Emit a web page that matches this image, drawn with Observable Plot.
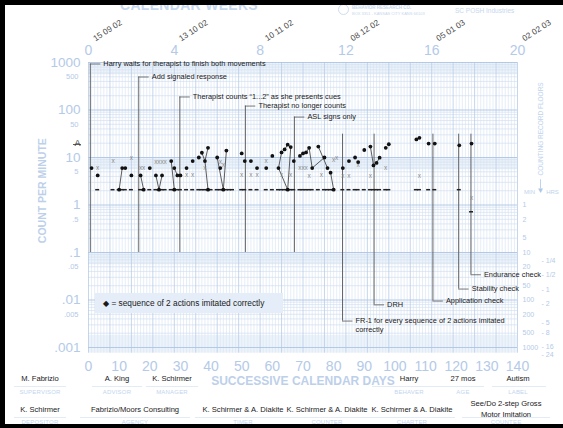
<!DOCTYPE html>
<html><head><meta charset="utf-8">
<script src="https://cdn.jsdelivr.net/npm/d3@7"></script>
<script src="https://cdn.jsdelivr.net/npm/@observablehq/plot@0.6"></script>
<style>
body{margin:0;background:#fff;}
#wrap{position:relative;width:563px;height:428px;overflow:hidden;font-family:"Liberation Sans",Arial,sans-serif;background:#fff;}
#wrap svg{position:absolute;left:0;top:0;overflow:visible;}
.bar{position:absolute;background:#000;z-index:5;}
.abs{position:absolute;white-space:nowrap;}
.f{position:absolute;transform:translateX(-50%);text-align:center;white-space:nowrap;line-height:1;}
.v{font-size:7.6px;color:#1a1a1a;}
.l{font-size:6px;color:#c3d5ee;letter-spacing:.2px;}
.u{position:absolute;height:0;border-top:1px solid #e2ebf6;}
</style></head><body><div id="wrap"></div>
<script>
// ---------- data ----------
const weekTicks = [0, 4, 8, 12, 16, 20];
const weekDates = ["15 09 02", "13 10 02", "10 11 02", "08 12 02", "05 01 03", "02 02 03"];
const dayTicks = [0,10,20,30,40,50,60,70,80,90,100,110,120,130,140];
const majorY = [1000, 100, 10, 1, 0.1, 0.01, 0.001];
const majorYLabels = ["1000", "100", "10", "1", ".1", ".01", ".001"];
const minorY = [500, 50, 5, 0.5, 0.05, 0.005];
const minorYLabels = ["500", "50", "5", ".5", ".05", ".005"];
const floorMinutes = [1, 2, 5, 10, 20, 50, 100, 200, 500, 1000];
const floorHours = [0.25, 0.5, 1, 2, 5, 8, 16, 24];
const floorHourLabels = ["1/4", "1/2", "1", "2", "5", "8", "16", "24"];

// correct (dots): day, count per minute
const dotDays   = [1,3,10,11,12,14, 17,18,20,22,23,24,27,28,28,29, 30,32,34,36,37,38,39,39, 42,43,44,45, 50,51,53,55,58,60, 62,63,64,65,65,66,67, 69,70,71,72,73,75,77,78,79,80, 83,85,87,88,90,92,93,94,95, 97,98, 107,108, 111,113, 121, 125];
const dotValues = [6,4.2,2.1,6,6,4.2, 4.2,2.1,6,4.2,2.1,4.2,8.4,6,2.1,4.2, 4.2,6,8.4,10,12.6,8.4,16,2.1, 10,6,2.1,14, 12.2,8.4,8.4,6,6,10.8, 6,12.8,14.8,18.6,2.1,16.6,8.4, 10.8,12.2,12.8,16,6,17,10,6,4.8,2.1, 6,8.4,10,8,14.4,17,6.8,7.7,9.9, 16,19, 24,26, 19.6,19.6, 18, 19.6];
// connected runs of dots
const lineRuns = [
  [[10,2.1],[11,6]],
  [[17,4.2],[18,2.1]],
  [[22,4.2],[23,2.1],[24,4.2]],
  [[27,8.4],[28,2.1]],
  [[28,6],[29,4.2]],
  [[37,12.6],[38,8.4],[39,16]],
  [[38,8.4],[39,2.1]],
  [[42,10],[44,2.1],[45,14]],
  [[62,6],[63,12.8],[64,14.8],[65,18.6],[66,16.6]],
  [[62,6],[65,2.1],[66,16.6]],
  [[69,10.8],[70,12.2],[71,12.8],[72,16],[73,6]],
  [[75,17],[78,6]],
  [[73,6],[77,10]],
  [[79,4.8],[80,2.1]],
  [[92,17],[93,6.8],[94,7.7],[95,9.9]]
];
// incorrect (x marks)
const errDays   = [3,8,14,17,18,22,23,24,25,32,34,38,43,44,50,53,55,58,63,66,69,70,71,72,76,80,81,83,85,88,92,97,108,125];
const errValues = [6,8.4,10,6,6,8,8,8,8,4.2,4.2,6,8,7,4.4,4.4,4.4,8.4,4.4,4.4,6,6,6,4.1,4.4,9,10,4.1,4.1,7,4.1,6.1,4.1,1.38];
// record floors (dashes)
const floorDays   = [3,8,10,11,12,14,17,18,20,22,23,24,25,27,28,29,30,32,34,36,37,38,39,40,42,43,44,45,46,47,50,51,53,55,58,60,62,63,64,65,66,67,69,70,71,72,73,75,77,78,79,80,83,85,87,88,90,92,93,94,95,97,98,107,108,111,113,121,125];
const floorValues = floorDays.map(d => d === 125 ? 0.72 : 2.1);

// phase changes
const phaseDays = [0.6, 16.4, 29.8, 51.2, 67.2, 82.9, 93.2, 112.4, 120.8, 124.8];
const phaseLabels = [
  "Harry waits for therapist to finish both movements",
  "Add signaled response",
  "Therapist counts \u201c1...2\u201d as she presents cues",
  "Therapist no longer counts",
  "ASL signs only",
  "FR-1 for every sequence of 2 actions imitated\ncorrectly",
  "DRH",
  "Application check",
  "Stability check",
  "Endurance check"
];
const phaseLabelLevel = [930, 495, 188, 121, 71, 0.0036, 0.0079, 0.0095, 0.017, 0.034];
const phaseLineTop    = [930, 495, 188, 121, 71, 31, 31, 31, 31, 31];
const phaseLineBottom = [0.1, 0.1, 0.1, 0.1, 0.1, 0.0036, 0.0079, 0.0095, 0.017, 0.034];

const footerRow1 = ["M. Fabrizio", "A. King", "K. Schirmer", "Harry", "27 mos", "Autism"];
const footerRow1Labels = ["SUPERVISOR", "ADVISOR", "MANAGER", "BEHAVER", "AGE", "LABEL"];
const footerRow2 = ["K. Schirmer", "Fabrizio/Moors Consulting", "K. Schirmer & A. Diakite", "K. Schirmer & A. Diakite", "K. Schirmer & A. Diakite", "See/Do 2-step Gross\nMotor Imitation"];
const footerRow2Labels = ["DEPOSITOR", "AGENCY", "TIMER", "COUNTER", "CHARTER", "COUNTEE"];

// ---------- build tables ----------
const dots = dotDays.map((d, i) => ({day: d, value: dotValues[i]}));
const errs = errDays.map((d, i) => ({day: d, value: errValues[i]}));
const floors = floorDays.map((d, i) => ({day: d, value: floorValues[i]}));
const links = lineRuns.flatMap((run, g) => run.map(([day, value]) => ({day, value, g})));
const phases = phaseDays.map((d, i) => ({day: d, label: phaseLabels[i], level: phaseLabelLevel[i], top: phaseLineTop[i], bottom: phaseLineBottom[i]}));
const weeks = weekTicks.map((w, i) => ({day: w * 7, week: String(w), date: weekDates[i]}));

const gridY = [];
for (let k = -3; k <= 2; k++) for (let m = 1; m <= 9; m++) gridY.push(+(m * Math.pow(10, k)).toPrecision(3));
gridY.push(1000);
const decades = [1000, 100, 10, 1, 0.1, 0.01, 0.001];
const allDays = d3.range(0, 141);
const bands = [1000, 10, 0.1];

const light = "#b4cae8";
const W = 563, H = 428;

const chart = Plot.plot({
  width: W, height: H,
  marginLeft: 88, marginRight: 46, marginTop: 62, marginBottom: 81,
  x: {domain: [0, 140], axis: null},
  y: {type: "log", domain: [0.001, 1000], axis: null},
  style: {fontFamily: "'Liberation Sans', Arial, sans-serif", background: "transparent", overflow: "visible"},
  marks: [
    Plot.rect(bands, {x1: 0, x2: 140, y1: d => d * 0.55, y2: d => d, fill: "#edf3fa"}),
    Plot.rect([0], {x1: 0, x2: 140, y1: 0.00076, y2: 0.0018, fill: "#edf3fa"}),
    Plot.ruleX(allDays.filter(d => d % 7 !== 0), {x: d => d, y1: 0.00076, y2: 1000, stroke: "#dae6f4", strokeWidth: 0.7}),
    Plot.ruleY(gridY.filter(v => !decades.includes(v)), {y: d => d, x1: 0, x2: 140, stroke: "#d2e0f1", strokeWidth: 0.7}),
    Plot.ruleX(allDays.filter(d => d % 7 === 0), {x: d => d, y1: 0.00076, y2: 1000, stroke: "#b7cce7", strokeWidth: 0.8}),
    Plot.ruleY(decades, {y: d => d, x1: 0, x2: 140, stroke: "#adc4e3", strokeWidth: 0.9}),
    // axis labels
    Plot.text(majorY, {x: 0, y: d => d, text: (d, i) => majorYLabels[i], dx: -8, textAnchor: "end", fontSize: 13.5, fill: light}),
    Plot.text(minorY, {x: 0, y: d => d, text: (d, i) => minorYLabels[i], dx: -10, textAnchor: "end", fontSize: 7.5, fill: light}),
    Plot.text(dayTicks, {x: d => d, y: 0.001, dy: 19, text: d => String(d), fontSize: 14, fill: light}),
    Plot.text(["SUCCESSIVE CALENDAR DAYS"], {x: 70, y: 0.001, dy: 34, text: d => d, fontSize: 12, fontWeight: "bold", fill: "#bdd0ea"}),
    Plot.text(["COUNT PER MINUTE"], {x: 0, y: 2, dx: -46, rotate: -90, text: d => d, fontSize: 10.5, fontWeight: "bold", fill: "#bdd0ea"}),
    Plot.text(weeks, {x: "day", y: 1000, dy: -12, text: "week", fontSize: 14, fill: light}),
    Plot.text(weeks, {x: "day", y: 1000, dx: 19, dy: -32, rotate: -33, text: "date", fontSize: 8.3, fill: "#4a4a4a"}),
    // right side record floors
    Plot.text(floorMinutes, {x: 140, y: d => 1 / d, dx: 5, textAnchor: "start", text: d => String(d), fontSize: 7, fill: light}),
    Plot.text(floorHours, {x: 140, y: d => 1 / (d * 60), dx: 24, textAnchor: "start", text: (d, i) => "- " + floorHourLabels[i], fontSize: 7, fill: light}),
    Plot.text(["COUNTING RECORD FLOORS"], {x: 140, y: 40, dx: 23, rotate: -90, text: d => d, fontSize: 6.5, fill: "#c0d3ec"}),
    Plot.ruleX([140], {x: d => d, y1: 3.4, y2: 2.2, dx: 23, stroke: "#c0d3ec"}),
    Plot.text(["\u25BC"], {x: 140, y: 2, dx: 23, text: d => d, fontSize: 8, fill: "#aec6e6"}),
    Plot.text(["MIN"], {x: 140, y: 1.85, dx: 12, text: d => d, fontSize: 6, fill: "#c0d3ec"}),
    Plot.text(["HRS"], {x: 140, y: 1.85, dx: 35, text: d => d, fontSize: 6, fill: "#c0d3ec"}),
    // small A marker
    Plot.text(["A"], {x: 0, y: 10, dx: -11, dy: -14, text: d => d, fontSize: 9, fill: "#333"}),
    Plot.ruleY([10], {y: d => d, x1: -4.9, x2: -2.3, dy: -13, stroke: "#333", strokeWidth: 0.8}),
    // phase change lines
    Plot.ruleX(phases, {x: "day", y1: "top", y2: "bottom", stroke: "#555", strokeWidth: 0.9}),
    Plot.ruleY(phases, {y: "level", x1: "day", x2: d => d.day + 3.4, stroke: "#555", strokeWidth: 0.8}),
    Plot.text(phases, {x: "day", y: "level", text: "label", dx: 13, dy: -4, textAnchor: "start", lineAnchor: "top", lineHeight: 1.2, fontSize: 7.4, fill: "#1a1a1a"}),
    // data
    Plot.ruleY(floors, {y: "value", x1: d => d.day - 0.65, x2: d => d.day + 0.65, stroke: "#222", strokeWidth: 1.5}),
    Plot.line(links, {x: "day", y: "value", z: "g", stroke: "#333", strokeWidth: 0.8}),
    Plot.text(errs, {x: "day", y: "value", text: d => "x", fontSize: 6.5, fill: "#8a8a8a"}),
    Plot.dot(dots, {x: "day", y: "value", r: 1.9, fill: "#111", stroke: "none"})
  ]
});

const wrap = document.getElementById("wrap");
wrap.appendChild(chart);

function add(html) { wrap.insertAdjacentHTML("beforeend", html); }
// header decorations
add('<div class="abs" style="left:120px;top:-3px;font-size:14px;font-weight:bold;color:#c6d7ee;letter-spacing:.3px">CALENDAR WEEKS</div>');
add('<div class="abs" style="left:338px;top:4px;width:9px;height:9px;border:1px solid #d0ddef;border-radius:50%"></div>');
add('<div class="abs" style="left:352px;top:5px;font-size:4.5px;color:#c6d7ee;font-weight:bold">BEHAVIOR RESEARCH CO.</div>');
add('<div class="abs" style="left:352px;top:11px;font-size:4px;color:#c6d7ee">BOX 3351 - KANSAS CITY KANS 66103</div>');
add('<div class="abs" style="left:455px;top:7px;font-size:6.5px;color:#c6d7ee">SC POSH Industries</div>');
// legend box
add('<div class="abs" style="left:95px;top:293px;width:188px;height:20px;background:#e4edf8"></div>');
add('<div class="abs" style="left:103px;top:298px;font-size:8.3px;color:#1a1a1a;line-height:10px"><span style="font-family:DejaVu Sans;font-size:8px">\u25C6</span> = sequence of 2 actions imitated correctly</div>');
// footer
const f1x = [40, 117, 172, 409, 463, 518];
const f2x = [40, 135, 243, 327, 412, 506];
const u1 = [[14,66],[92,142],[146,198],[372,446],[444,484],[492,546]];
const u2 = [[14,66],[80,190],[195,290],[290,372],[372,455],[462,550]];
footerRow1.forEach((t, i) => {
  add(`<div class="f v" style="left:${f1x[i]}px;top:375px">${t}</div>`);
  add(`<div class="f l" style="left:${f1x[i]}px;top:389px">${footerRow1Labels[i]}</div>`);
  add(`<div class="u" style="left:${u1[i][0]}px;width:${u1[i][1]-u1[i][0]}px;top:386px"></div>`);
});
footerRow2.forEach((t, i) => {
  const two = t.includes("\n");
  add(`<div class="f v" style="left:${f2x[i]}px;top:${two ? 398 : 404}px;line-height:11px">${t.replace("\n", "<br>")}</div>`);
  add(`<div class="f l" style="left:${f2x[i]}px;top:419px">${footerRow2Labels[i]}</div>`);
  add(`<div class="u" style="left:${u2[i][0]}px;width:${u2[i][1]-u2[i][0]}px;top:417px"></div>`);
});
// black frame
add('<div class="bar" style="left:0;top:0;width:563px;height:5px"></div>');
add('<div class="bar" style="left:0;top:0;width:5px;height:428px"></div>');
add('<div class="bar" style="left:0;top:424px;width:563px;height:4px"></div>');
</script></body></html>
